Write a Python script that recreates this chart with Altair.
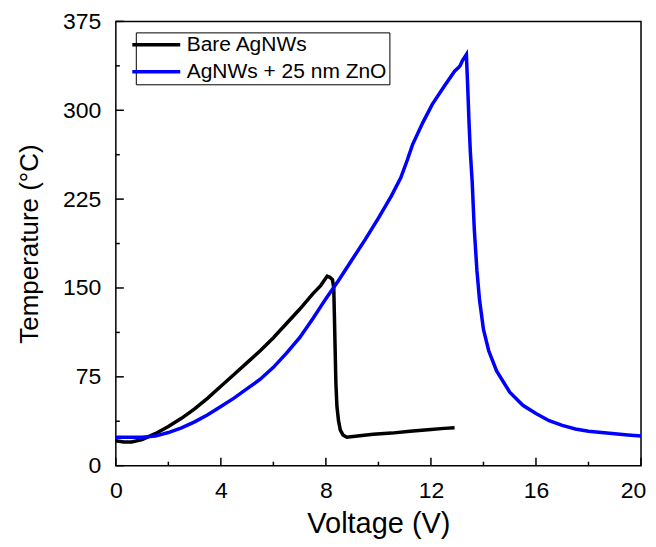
import altair as alt
import pandas as pd

# ---- data ----
bare_v = [0.0, 0.3, 0.6, 1.0, 1.5, 2.0, 2.5, 3.0, 3.5, 4.0, 4.5, 5.0, 5.5, 6.0, 6.5, 7.0, 7.5, 7.8,
          8.05, 8.15, 8.25, 8.3, 8.32, 8.35, 8.38, 8.42, 8.48, 8.55, 8.65, 8.8, 9.2, 9.8, 10.5, 11.2,
          12.0, 12.5, 12.9]
bare_t = [21, 20, 20, 22, 27, 33, 40, 48, 57, 67, 77, 87, 97, 108, 120, 132, 145, 152,
          160, 159, 157, 150, 130, 100, 70, 50, 38, 30, 26, 24, 25, 26.5, 27.5, 29,
          30.5, 31.5, 32]

zno_v = [0.0, 0.5, 1.0, 1.5, 2.0, 2.5, 3.0, 3.5, 4.0, 4.5, 5.0, 5.5, 6.0, 6.5, 7.0, 7.5, 8.0, 8.5,
         9.0, 9.5, 10.0, 10.5, 10.85, 11.1, 11.3, 11.7, 12.05, 12.5, 12.9, 13.05, 13.12, 13.2, 13.35,
         13.4, 13.45, 13.5, 13.57, 13.65, 13.75, 13.85, 14.0, 14.2, 14.5, 15.0, 15.5, 16.0, 16.5,
         17.0, 17.5, 18.0, 18.5, 19.0, 19.5, 20.0]
zno_t = [24, 24, 24, 25, 28, 32, 37, 43, 50, 57, 65, 73, 83, 95, 108, 124, 141, 157,
         174, 191, 209, 228, 243, 258, 271, 290, 305, 320, 333, 336, 338, 342, 347,
         320, 290, 265, 240, 200, 165, 140, 115, 97, 80, 62, 51, 44, 38,
         34, 31, 29, 28, 27, 26, 25]

series_names = ["Bare AgNWs", "AgNWs + 25 nm ZnO"]
series_colors = ["#000000", "#0000ff"]

x_major = [0, 4, 8, 12, 16, 20]
x_minor = [2, 6, 10, 14, 18]
y_major = [0, 75, 150, 225, 300, 375]
y_minor = [37.5, 112.5, 187.5, 262.5, 337.5]

rows = []
for i, (v, t) in enumerate(zip(bare_v, bare_t)):
    rows.append({"V": v, "T": t, "series": series_names[0], "idx": i})
for i, (v, t) in enumerate(zip(zno_v, zno_t)):
    rows.append({"V": v, "T": t, "series": series_names[1], "idx": i})
df = pd.DataFrame(rows)

xt_major = pd.DataFrame({"V": x_major})
xt_minor = pd.DataFrame({"V": x_minor})
yt_major = pd.DataFrame({"T": y_major})
yt_minor = pd.DataFrame({"T": y_minor})

W, H = 526, 445
FONT = "Liberation Sans"
MAJ, MIN = 8, 4

xscale = alt.Scale(domain=[0, 20], nice=False)
yscale = alt.Scale(domain=[0, 375], nice=False)

x_axis = alt.Axis(orient="bottom", values=x_major, ticks=False, tickSize=0, domain=False,
                  grid=False, labelFlush=False, labelPadding=14, titlePadding=7,
                  title="Voltage (V)", titleFontSize=29,
                  labelOffset={"condition": {"test": "datum.value == 20", "value": -8},
                               "value": 0})
y_axis = alt.Axis(orient="left", values=y_major, ticks=False, tickSize=0, domain=False,
                  grid=False, labelFlush=False, labelPadding=15, titlePadding=20,
                  title="Temperature (°C)", titleFontSize=26)

lines = alt.Chart(df).mark_line(strokeWidth=3.5).encode(
    x=alt.X("V:Q", scale=xscale, axis=x_axis),
    y=alt.Y("T:Q", scale=yscale, axis=y_axis),
    color=alt.Color("series:N",
                    scale=alt.Scale(domain=series_names, range=series_colors),
                    legend=alt.Legend(title=None, orient="none", legendX=20, legendY=11,
                                      symbolType="M-3,0H3", symbolSize=256,
                                      symbolStrokeWidth=3.5, symbolOffset=8,
                                      labelOffset=20, labelFontSize=21, labelFont=FONT,
                                      labelLimit=400, labelColor="black", rowPadding=5,
                                      padding=2, strokeColor="black", fillColor="white")),
    order="idx:Q",
)

rule_kw = dict(color="black", strokeWidth=1.5)
xmaj = alt.Chart(xt_major).mark_rule(**rule_kw).encode(
    x=alt.X("V:Q", scale=xscale, axis=x_axis), y=alt.value(H), y2=alt.value(H - MAJ))
xmin = alt.Chart(xt_minor).mark_rule(**rule_kw).encode(
    x=alt.X("V:Q", scale=xscale, axis=x_axis), y=alt.value(H), y2=alt.value(H - MIN))
ymaj = alt.Chart(yt_major).mark_rule(**rule_kw).encode(
    y=alt.Y("T:Q", scale=yscale, axis=y_axis), x=alt.value(0), x2=alt.value(MAJ))
ymin = alt.Chart(yt_minor).mark_rule(**rule_kw).encode(
    y=alt.Y("T:Q", scale=yscale, axis=y_axis), x=alt.value(0), x2=alt.value(MIN))

chart = alt.layer(lines, xmaj, xmin, ymaj, ymin).properties(
    width=W, height=H, padding={"left": 8, "top": 2, "right": 0, "bottom": 0}
).configure_view(stroke="black", strokeWidth=1.5).configure_axis(
    labelFont=FONT, titleFont=FONT, labelFontSize=23,
    labelColor="black", titleColor="black", titleFontWeight="normal"
)

chart.save("out.html", embed_options={"renderer": "svg", "actions": False})
